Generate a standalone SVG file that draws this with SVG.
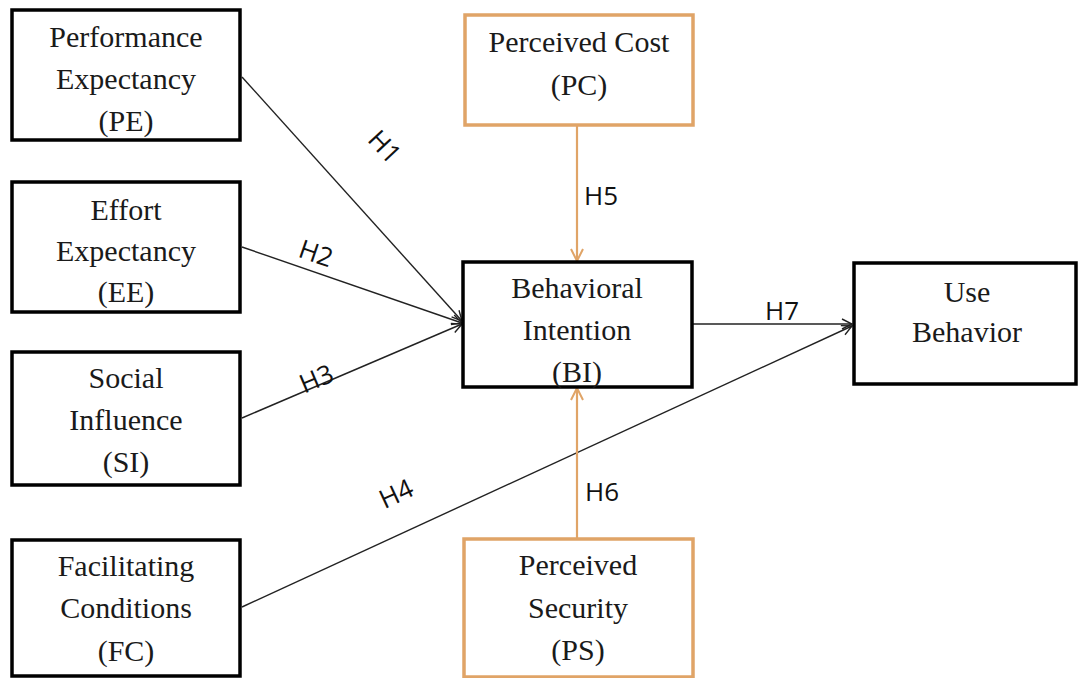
<svg xmlns="http://www.w3.org/2000/svg" width="1078" height="678" viewBox="0 0 1078 678">
  <style>
    .box { fill: #ffffff; stroke: #000000; stroke-width: 3.5; }
    .obox { fill: #ffffff; stroke: #e0a467; stroke-width: 3.5; }
    .lbl { font-family: "Liberation Serif", "Times New Roman", serif; font-size: 30px; fill: #1a1a1a; text-anchor: middle; }
    .hyp { font-family: "Open Sans", "Liberation Sans", sans-serif; font-size: 26px; fill: #111111; text-anchor: middle; }
    .edge { fill: none; stroke: #222222; stroke-width: 1.4; }
    .oedge { fill: none; stroke: #e0a467; stroke-width: 2.2; }
  </style>
  <defs>
    <marker id="arrow" viewBox="0 0 12 12" refX="11" refY="6" markerWidth="12" markerHeight="12" markerUnits="userSpaceOnUse" orient="auto">
      <path d="M1,1 L11,6 L1,11" fill="none" stroke="#222222" stroke-width="1.4"/>
    </marker>
    <marker id="oarrow" viewBox="0 0 14 14" refX="13" refY="7" markerWidth="14" markerHeight="14" markerUnits="userSpaceOnUse" orient="auto">
      <path d="M1,1 L13,7 L1,13" fill="none" stroke="#e0a467" stroke-width="2"/>
    </marker>
  </defs>

  <rect width="1078" height="678" fill="#ffffff"/>

  <!-- connectors -->
  <g id="connectors">
    <line class="edge" x1="242" y1="77" x2="462" y2="321" marker-end="url(#arrow)"/>
    <line class="edge" x1="242" y1="247" x2="462" y2="323" marker-end="url(#arrow)"/>
    <line class="edge" x1="242" y1="418" x2="462" y2="324" marker-end="url(#arrow)"/>
    <line class="edge" x1="242" y1="607" x2="852" y2="326" marker-end="url(#arrow)"/>
    <line class="edge" x1="692" y1="324" x2="852" y2="324" marker-end="url(#arrow)"/>
    <line class="oedge" x1="577" y1="126" x2="577" y2="261" marker-end="url(#oarrow)"/>
    <line class="oedge" x1="577" y1="538" x2="577" y2="388" marker-end="url(#oarrow)"/>

    <text class="hyp" transform="translate(378,153) rotate(47)">H1</text>
    <text class="hyp" transform="translate(313,262) rotate(19)">H2</text>
    <text class="hyp" transform="translate(320,387) rotate(-23)">H3</text>
    <text class="hyp" transform="translate(400,502) rotate(-25)">H4</text>
    <text class="hyp" x="601" y="205">H5</text>
    <text class="hyp" x="602" y="501">H6</text>
    <text class="hyp" x="782" y="320">H7</text>
  </g>

  <!-- constructs -->
  <g id="node-pe">
    <rect class="box" x="12" y="10" width="228" height="130"/>
    <text class="lbl" x="126" y="47">Performance</text>
    <text class="lbl" x="126" y="89">Expectancy</text>
    <text class="lbl" x="126" y="131">(PE)</text>
  </g>
  <g id="node-ee">
    <rect class="box" x="12" y="182" width="228" height="130"/>
    <text class="lbl" x="126" y="220">Effort</text>
    <text class="lbl" x="126" y="261">Expectancy</text>
    <text class="lbl" x="126" y="302">(EE)</text>
  </g>
  <g id="node-si">
    <rect class="box" x="12" y="352" width="228" height="133"/>
    <text class="lbl" x="126" y="388">Social</text>
    <text class="lbl" x="126" y="430">Influence</text>
    <text class="lbl" x="126" y="472">(SI)</text>
  </g>
  <g id="node-fc">
    <rect class="box" x="12" y="540" width="228" height="136"/>
    <text class="lbl" x="126" y="576">Facilitating</text>
    <text class="lbl" x="126" y="618">Conditions</text>
    <text class="lbl" x="126" y="661">(FC)</text>
  </g>
  <g id="node-pc">
    <rect class="obox" x="465" y="15" width="228" height="110"/>
    <text class="lbl" x="579" y="52">Perceived Cost</text>
    <text class="lbl" x="579" y="95">(PC)</text>
  </g>
  <g id="node-bi">
    <rect class="box" x="463" y="262" width="229" height="125"/>
    <text class="lbl" x="577" y="298">Behavioral</text>
    <text class="lbl" x="577" y="340">Intention</text>
    <text class="lbl" x="577" y="382">(BI)</text>
  </g>
  <g id="node-ub">
    <rect class="box" x="854" y="263" width="222" height="121"/>
    <text class="lbl" x="967" y="302">Use</text>
    <text class="lbl" x="967" y="342">Behavior</text>
  </g>
  <g id="node-ps">
    <rect class="obox" x="464" y="539" width="229" height="138"/>
    <text class="lbl" x="578" y="575">Perceived</text>
    <text class="lbl" x="578" y="618">Security</text>
    <text class="lbl" x="578" y="660">(PS)</text>
  </g>
</svg>
